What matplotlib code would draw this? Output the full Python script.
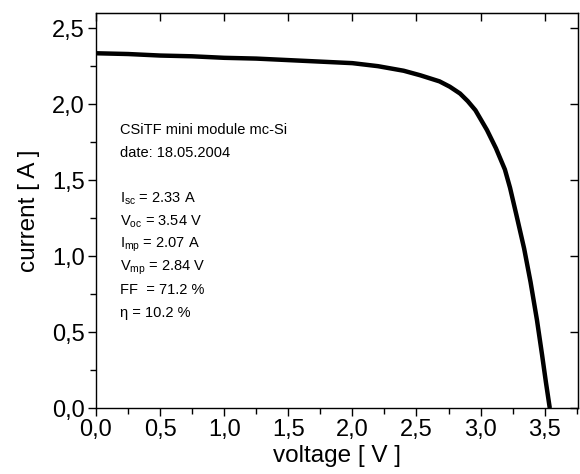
import numpy as np
import matplotlib
matplotlib.use('Agg')
import matplotlib.pyplot as plt
from matplotlib.ticker import MultipleLocator, FuncFormatter

plt.rcParams['font.family'] = ['Liberation Sans', 'DejaVu Sans']
plt.rcParams['mathtext.fontset'] = 'custom'
plt.rcParams['mathtext.rm'] = 'Liberation Sans'
plt.rcParams['mathtext.it'] = 'Liberation Sans'

# I-V curve
voltage = [0.0, 0.25, 0.5, 0.75, 1.0, 1.25, 1.5, 1.75, 2.0, 2.2, 2.4, 2.53,
           2.68, 2.76, 2.84, 2.90, 2.96, 3.05, 3.12, 3.19, 3.23, 3.28, 3.34,
           3.39, 3.44, 3.48, 3.51, 3.54]
current = [2.335, 2.33, 2.32, 2.315, 2.305, 2.30, 2.29, 2.28, 2.27, 2.25, 2.22,
           2.19, 2.15, 2.115, 2.07, 2.02, 1.96, 1.83, 1.71, 1.57, 1.45, 1.27,
           1.05, 0.83, 0.58, 0.35, 0.17, 0.0]

info_lines = [
    'CSiTF mini module mc-Si',
    'date: 18.05.2004',
    '',
    r'I$_{\rm sc}$ = 2.33 A',
    r'V$_{\rm oc}$ = 3.54 V',
    r'I$_{\rm mp}$ = 2.07 A',
    r'V$_{\rm mp}$ = 2.84 V',
    'FF  = 71.2 %',
    'η = 10.2 %',
]

fig = plt.figure(figsize=(5.8, 4.74), dpi=100)
ax = fig.add_axes([0.1655, 0.139, 0.831, 0.8336])

ax.plot(voltage, current, color='black', linewidth=3.2, solid_capstyle='butt',
        solid_joinstyle='round')

ax.set_xlim(0, 3.76)
ax.set_ylim(0, 2.6)

comma = FuncFormatter(lambda v, p: ('%.1f' % v).replace('.', ','))
ax.xaxis.set_major_locator(MultipleLocator(0.5))
ax.xaxis.set_minor_locator(MultipleLocator(0.25))
ax.yaxis.set_major_locator(MultipleLocator(0.5))
ax.yaxis.set_minor_locator(MultipleLocator(0.25))
ax.xaxis.set_major_formatter(comma)
ax.yaxis.set_major_formatter(comma)

ax.tick_params(which='major', direction='out', length=6, width=1, labelsize=17,
               top=False, right=False, pad=2)
ax.tick_params(which='minor', direction='out', length=4, width=1)
# inward ticks on top and right
axt = ax.secondary_xaxis('top')
axt.xaxis.set_major_locator(MultipleLocator(0.5))
axt.tick_params(direction='in', length=6, width=1, labeltop=False)
axr = ax.secondary_yaxis('right')
axr.yaxis.set_major_locator(MultipleLocator(0.5))
axr.tick_params(direction='in', length=6, width=1, labelright=False)

for s in ax.spines.values():
    s.set_linewidth(1)

ax.set_xlabel('voltage [ V ]', fontsize=17.5, labelpad=3)
ax.set_ylabel('current [ A ]', fontsize=17.5, labelpad=9)

y0 = 0.704
for i, line in enumerate(info_lines):
    if line:
        ax.text(0.05, y0 - i * 0.058, line, transform=ax.transAxes,
                fontsize=10.5, va='center', ha='left')

fig.savefig('out.png', dpi=100)
